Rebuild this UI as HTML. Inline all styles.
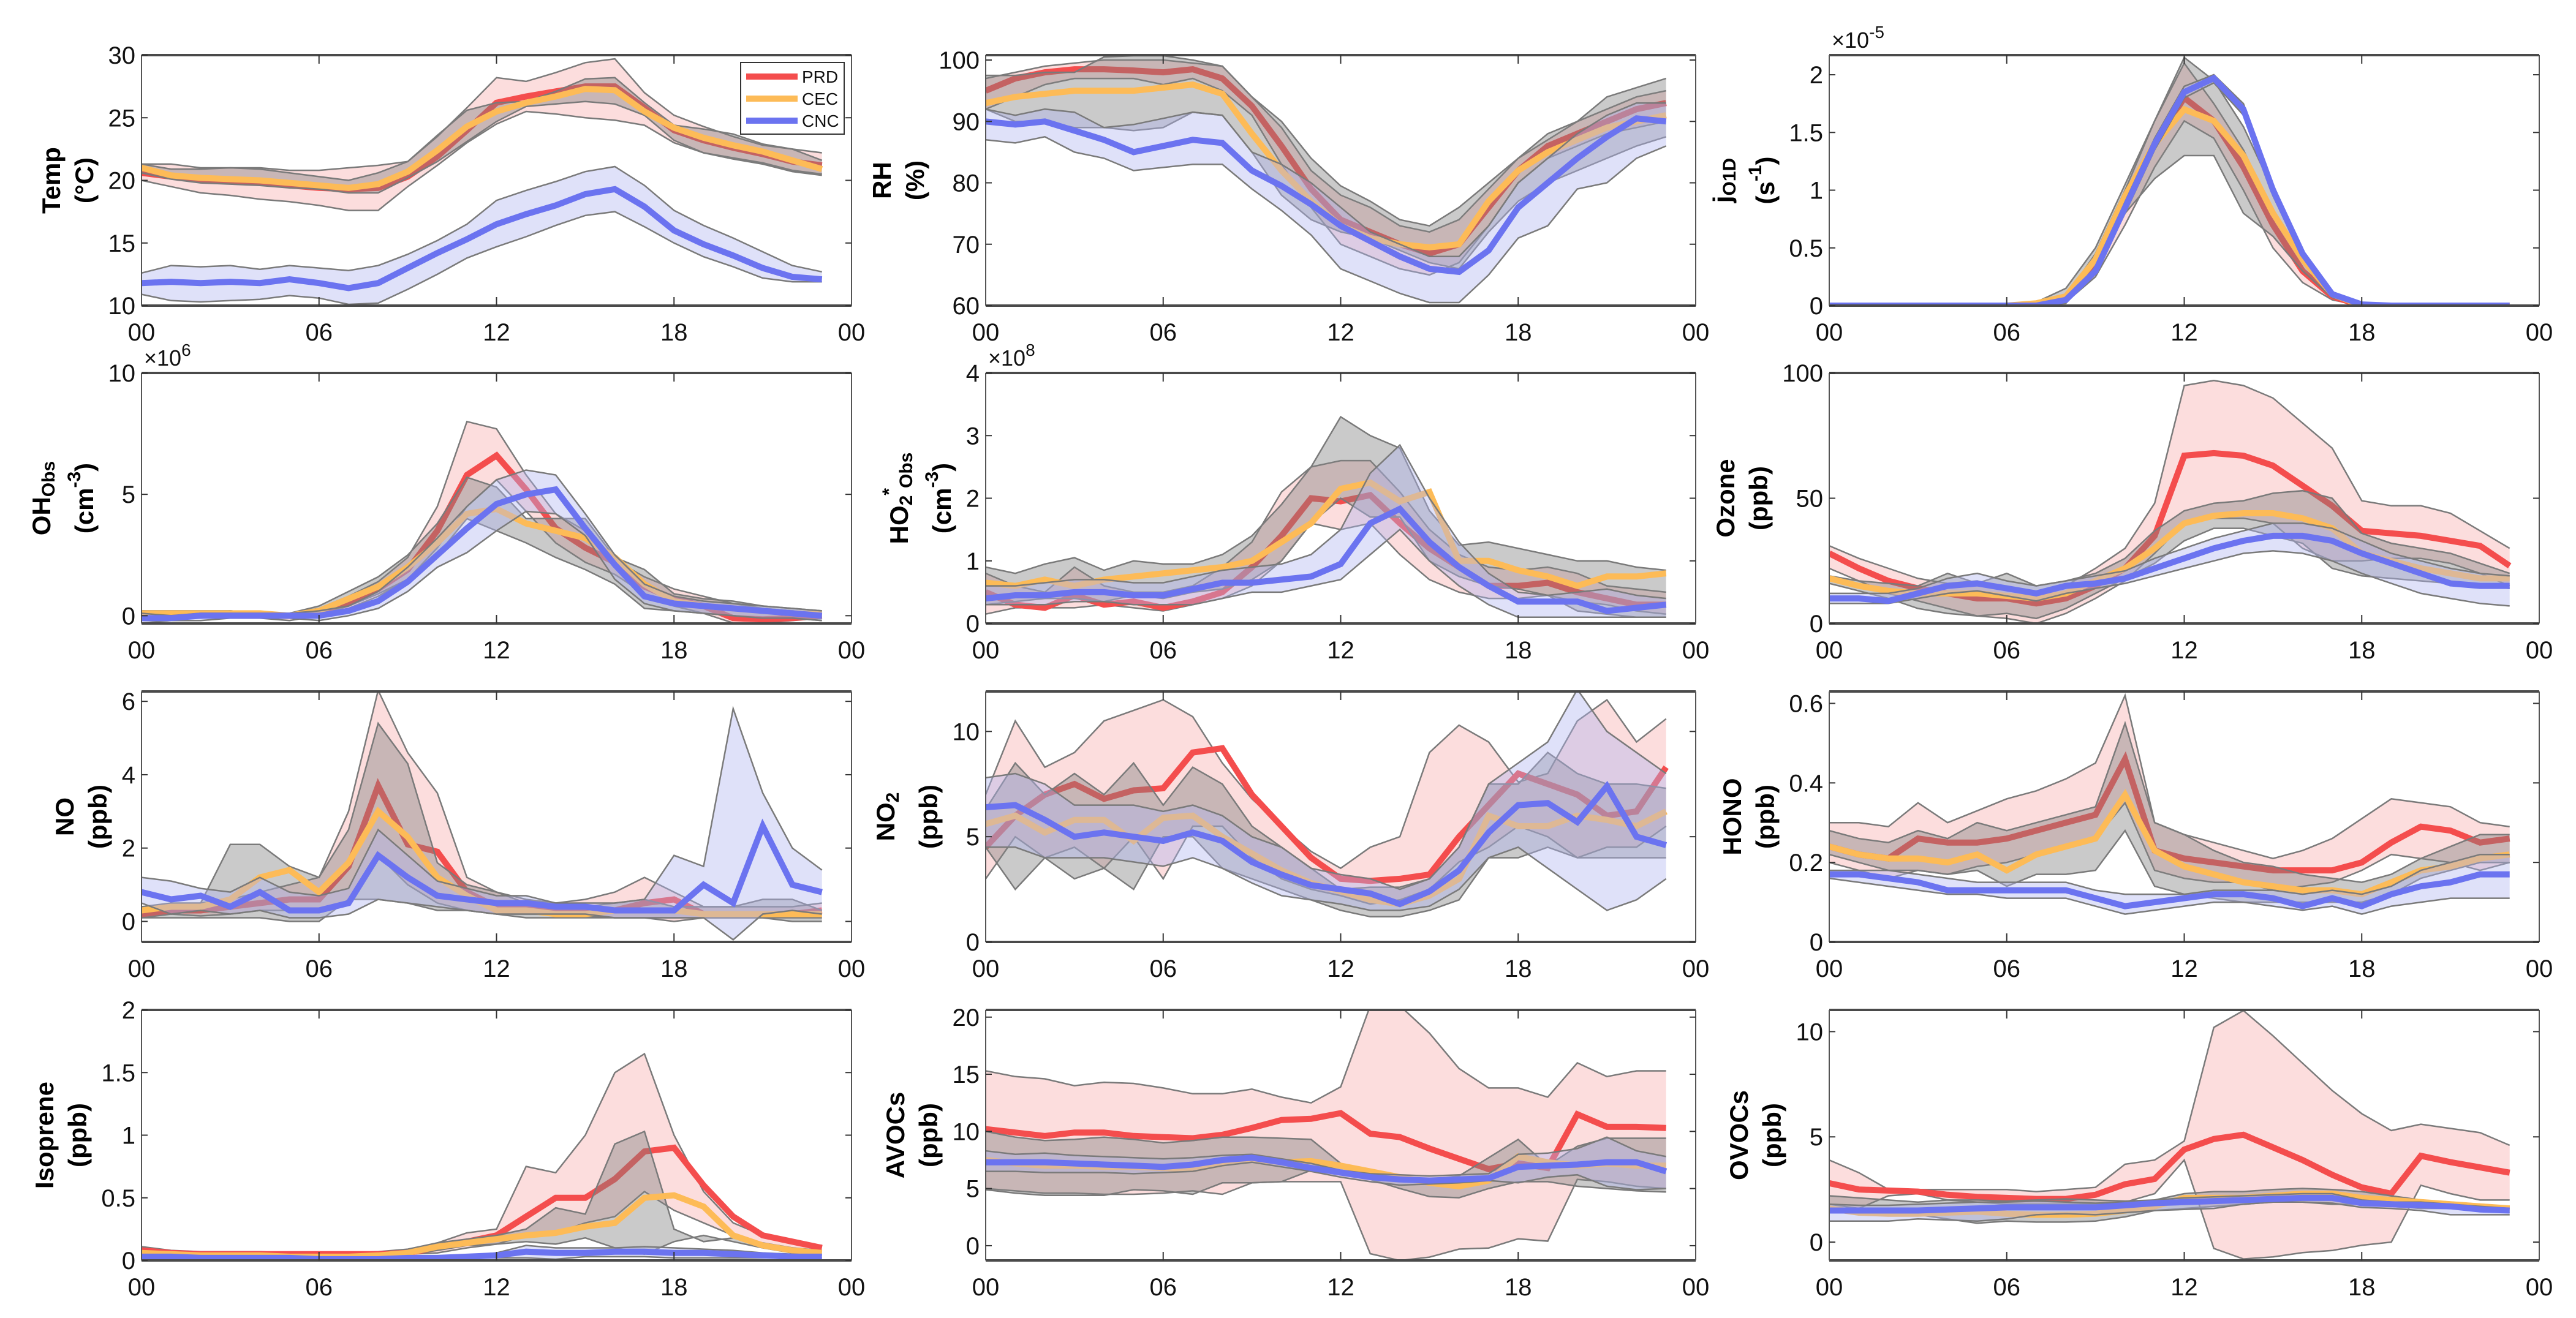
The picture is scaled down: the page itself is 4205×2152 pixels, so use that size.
<!DOCTYPE html>
<html><head><meta charset="utf-8"><style>
html,body{margin:0;padding:0;background:#fff;}
svg{display:block;font-family:"Liberation Sans",Arial,sans-serif;}
</style></head><body>
<svg id="fig" width="4205" height="2152" viewBox="0 0 4205 2152" xmlns="http://www.w3.org/2000/svg"></svg>
<script>
const hours = [0,1,2,3,4,5,6,7,8,9,10,11,12,13,14,15,16,17,18,19,20,21,22,23];
const xTickLabels = ["00","06","12","18","00"];
const seriesNames = ["PRD","CEC","CNC"];

// Temp
const tempPRD = [20.6,20.3,20.0,19.9,19.8,19.6,19.4,19.3,19.4,20.3,21.9,24,26.2,26.7,27.1,27.5,27.5,25.8,24,23.2,22.6,22.1,21.5,21.2];
const tempPRDlo = [20,19.5,19,18.8,18.5,18.3,18,17.6,17.6,19.5,21.2,23,24.5,25.5,25.3,25,24.8,24.4,23,22.2,21.8,21.4,20.8,20.5];
const tempPRDhi = [21.3,21.3,21,21,21,20.8,20.8,21,21.2,21.5,23.5,25.8,28.2,27.9,28.6,29.4,29.7,27,25.2,24.3,23.5,22.8,22.5,22.2];
const tempCEC = [21,20.4,20.2,20.1,20,19.8,19.6,19.4,19.7,20.7,22.4,24.3,25.5,26.2,26.7,27.3,27.2,25.5,24.2,23.4,22.8,22.3,21.6,20.9];
const tempCEClo = [20.6,20.1,19.8,19.7,19.6,19.4,19.3,19.0,19.0,20.2,21.5,23.1,24.7,25.9,26.1,26.3,26.1,25.2,23.2,22.2,21.7,21.3,20.7,20.4];
const tempCEChi = [21.3,20.9,20.9,21,20.9,20.6,20.3,20,20.6,21.5,23.6,25.6,26.2,26.3,27.1,28.1,28.2,26.2,24.4,24.1,23.7,22.9,22.5,21.6];
const tempCNC = [11.8,11.9,11.8,11.9,11.8,12.1,11.8,11.4,11.8,13,14.2,15.3,16.5,17.3,18,18.9,19.3,17.9,16,14.9,14,13,12.3,12.1];
const tempCNClo = [10.9,10.4,10.3,10.4,10.5,10.8,10.6,10.1,10.2,11.3,12.5,13.8,14.7,15.5,16.4,17.2,17.5,16.3,15,13.9,13.1,12.2,11.9,11.9];
const tempCNChi = [12.6,13.2,13.1,13.2,12.9,13.2,13,12.8,13.2,14.1,15.2,16.5,18.4,19.2,19.9,20.7,21.1,19.6,17.6,16.4,15.4,14.3,13.2,12.7];
// RH
const rhPRD = [95,97,98,98.5,98.5,98.3,98,98.5,97,92.5,86,79,74,72,70,68.5,70,76,82,86,88,90,92,93];
const rhPRDlo = [92,94,96,97,97,97,96,97,95,91,83,76,70,68,66,65,67,73,80,84,86,88,89,90];
const rhPRDhi = [97,98,99,99.5,100,100,100,99.5,99,94,89,82,78,76,73,72,74,79,84,87,90,92,94,95];
const rhCEC = [93,94,94.5,95,95,95,95.5,96,94.5,88,82,77,73,71,70,69.5,70,77,82,85,87,89,90,91];
const rhCEClo = [92,90,90,89,89,88.5,89,91.5,91,85,78,74,72,71,69,67,66,72,77,80,82,84,86,87.5];
const rhCEChi = [97.5,97.5,98,98,100.5,100.7,100.7,100,99,94,90,84,79.5,77,74,73,76,80,84,88,90,94,95.5,97];
const rhCNC = [90,89.5,90,88.5,87,85,86,87,86.5,82,79.5,76.5,73,70.5,68,66,65.5,69,76,80,84,87.5,90.5,90];
const rhCNClo = [87,86.5,87.5,85,84,82,82.5,83,83,79,75.5,71.5,66,64,62,60.5,60.5,65,71,73,79,80,84,86];
const rhCNChi = [92,91,92,91.5,89,89.5,90.5,91.5,91,85,83,80,76,72,70,68,68,73,80,84,88,91,93,93];
// jO1D (x1e-5)
const jPRD = [0,0,0,0,0,0,0,0,0.05,0.35,0.9,1.4,1.8,1.6,1.2,0.7,0.3,0.08,0,0,0,0,0,0];
const jPRDlo = [0,0,0,0,0,0,0,0,0.03,0.25,0.7,1.2,1.6,1.45,1.0,0.5,0.2,0.05,0,0,0,0,0,0];
const jPRDhi = [0,0,0,0,0,0,0,0,0.08,0.45,1.0,1.6,2.1,1.75,1.35,0.8,0.4,0.1,0,0,0,0,0,0];
const jCEC = [0,0,0,0,0,0,0,0.02,0.08,0.4,0.95,1.4,1.7,1.6,1.3,0.8,0.4,0.1,0,0,0,0,0,0];
const jCEClo = [0,0,0,0,0,0,0,0,0.02,0.3,0.8,1.1,1.3,1.3,0.8,0.6,0.3,0.07,0,0,0,0,0,0];
const jCEChi = [0,0,0,0,0,0,0,0.03,0.15,0.5,1.05,1.6,2.15,1.95,1.55,1.0,0.45,0.12,0,0,0,0,0,0];
const jCNC = [0,0,0,0,0,0,0,0,0.05,0.3,0.85,1.4,1.85,1.97,1.7,1.0,0.45,0.1,0.01,0,0,0,0,0];
const jCNClo = [0,0,0,0,0,0,0,0,0.04,0.28,0.8,1.35,1.8,1.93,1.65,0.95,0.42,0.09,0,0,0,0,0,0];
const jCNChi = [0,0,0,0,0,0,0,0,0.06,0.32,0.9,1.45,1.9,2.0,1.75,1.05,0.48,0.11,0.02,0,0,0,0,0];
// OH (x1e6)
const ohPRD = [0.1,0.05,0.05,0.1,0.05,0,0.1,0.5,1.1,1.9,3.5,5.8,6.6,5.2,3.6,2.8,2.2,1.2,0.7,0.4,-0.1,-0.15,-0.1,0];
const ohPRDlo = [-0.1,-0.1,-0.1,0,-0.1,-0.2,0,0.3,0.8,1.5,2.8,4.5,5.6,4.3,3.0,2.2,1.7,0.9,0.4,0.1,-0.3,-0.3,-0.2,-0.1];
const ohPRDhi = [0.2,0.15,0.1,0.2,0.1,0.1,0.3,0.8,1.4,2.4,4.5,8,7.7,5.8,4.2,3.5,2.3,1.6,1.1,0.8,0.5,0.3,0.2,0.1];
const ohCEC = [0.1,0.1,0.1,0.1,0.1,0,0.2,0.7,1.2,2.0,3.0,4.2,4.4,3.8,3.5,3.2,2.4,1.3,0.6,0.4,0.3,0.2,0.1,0.05];
const ohCEClo = [0,0,0,0,0,-0.1,0,0.4,0.9,1.5,2.5,4,3.5,3.0,2.4,1.9,1.3,0.3,0.2,0.1,0,-0.1,-0.1,-0.2];
const ohCEChi = [0.2,0.2,0.2,0.2,0.1,0.1,0.4,1,1.6,2.5,3.8,5.7,5.3,4.0,4.0,4.0,2.4,1.9,0.9,0.7,0.6,0.4,0.3,0.2];
const ohCNC = [-0.1,-0.1,0,0,0,0,0,0.2,0.6,1.4,2.5,3.6,4.6,5.0,5.2,3.6,2.1,0.8,0.5,0.4,0.3,0.2,0.1,0];
const ohCNClo = [-0.3,-0.2,-0.2,-0.1,-0.1,-0.1,-0.2,0,0.3,1.0,2,2.6,3.5,4.3,4.2,3.3,1.5,0.5,0.2,0.1,0,-0.1,-0.1,-0.2];
const ohCNChi = [0.1,0,0.1,0.1,0.1,0.1,0.2,0.4,1.0,2.0,3.2,4.5,5.6,6.0,5.8,4.2,2.5,1.3,0.8,0.6,0.5,0.4,0.3,0.2];
// HO2* (x1e8)
const ho2PRD = [0.5,0.3,0.25,0.45,0.3,0.35,0.25,0.35,0.5,0.9,1.4,2.0,1.95,2.05,1.6,1.2,0.9,0.6,0.6,0.65,0.5,0.4,0.3,0.3];
const ho2PRDlo = [0.15,0.25,0.25,0.25,0.3,0.25,0.2,0.3,0.4,0.6,1.0,1.6,1.5,1.6,1.1,0.7,0.5,0.4,0.4,0.45,0.35,0.3,0.2,0.15];
const ho2PRDhi = [0.8,0.6,0.5,0.9,0.6,0.5,0.5,0.6,0.9,1.3,2.1,2.5,2.6,2.6,2.1,1.5,1.1,0.9,0.85,0.9,0.8,0.6,0.55,0.5];
const ho2CEC = [0.65,0.6,0.7,0.6,0.7,0.75,0.8,0.85,0.9,1.0,1.3,1.6,2.15,2.25,1.95,2.1,1.0,1.0,0.85,0.75,0.6,0.75,0.75,0.8];
const ho2CEClo = [0.3,0.35,0.4,0.4,0.35,0.45,0.4,0.5,0.55,0.7,1.0,1.6,2.0,1.7,1.7,1.0,0.75,0.6,0.55,0.45,0.2,0.15,0.1,0.1];
const ho2CEChi = [0.9,0.8,0.95,1.05,0.85,1.0,0.95,0.95,1.1,1.4,1.9,2.5,3.3,3.0,2.8,1.8,1.25,1.3,1.2,1.1,1.0,1.0,0.9,0.85];
const ho2CNC = [0.4,0.45,0.45,0.5,0.5,0.45,0.45,0.55,0.65,0.65,0.7,0.75,0.95,1.6,1.83,1.3,0.9,0.6,0.35,0.35,0.35,0.2,0.25,0.3];
const ho2CNClo = [0.3,0.3,0.3,0.35,0.35,0.3,0.3,0.3,0.4,0.5,0.5,0.6,0.7,1.1,1.5,1.0,0.6,0.3,0.1,0.1,0.1,0.1,0.1,0.1];
const ho2CNChi = [0.6,0.6,0.65,0.7,0.7,0.65,0.65,0.75,0.85,0.9,0.95,1.1,1.5,2.4,2.85,2.0,1.3,0.8,0.5,0.45,0.5,0.55,0.45,0.4];
// Ozone
const o3PRD = [28,22,17,14,12,10,10,8,10,15,22,35,67,68,67,63,55,47,37,36,35,33,31,23];
const o3PRDlo = [22,17,12,9,6,3,2,0,4,10,17,28,40,42,42,40,30,25,25,26,26,24,20,15];
const o3PRDhi = [31,26,22,18,16,17,14,12,15,22,30,48,95,97,95,90,80,70,49,47,47,44,37,30];
const o3CEC = [18,15,13,12,12,12,11,10,12,17,22,30,40,43,44,44,42,38,28,25,22,20,18,18];
const o3CEClo = [16,13,10,6,4,3,4,2,6,12,18,24,33,38,38,35,32,22,19,18,17,16,15,14];
const o3CEChi = [19,17,16,15,20,16,20,15,17,20,26,37,45,48,49,52,53,50,36,32,30,28,24,20];
const o3CNC = [10,10,9,12,15,16,14,12,15,16,18,22,26,30,33,35,35,33,28,24,20,16,15,15];
const o3CNClo = [8,8,8,10,12,13,11,9,12,14,16,19,22,25,28,29,28,25,20,16,12,10,8,7];
const o3CNChi = [12,12,12,14,18,20,17,15,17,19,21,26,30,34,37,40,40,38,33,28,25,22,20,19];
// NO
const noPRD = [0.2,0.3,0.3,0.4,0.5,0.6,0.6,1.5,3.7,2.1,1.9,0.8,0.4,0.35,0.3,0.3,0.3,0.5,0.6,0.2,0.2,0.2,0.2,0.3];
const noPRDlo = [0.1,0.2,0.15,0.2,0.3,0.3,0.3,0.5,1.8,1.0,0.5,0.3,0.2,0.2,0.2,0.15,0.1,0.1,0,0.1,0.1,0.1,0.1,0.1];
const noPRDhi = [0.4,0.4,0.5,0.6,0.8,1.0,1.2,3,6.3,4.6,3.5,1.2,0.8,0.6,0.5,0.6,0.8,1.2,0.8,0.4,0.4,0.4,0.4,0.5];
const noCEC = [0.3,0.4,0.4,0.6,1.2,1.4,0.8,1.6,3.0,2.3,1.2,0.7,0.3,0.3,0.2,0.2,0.3,0.3,0.3,0.2,0.2,0.2,0.2,0.2];
const noCEClo = [0.1,0.1,0.1,0.1,0.1,0,0,0.6,0.6,0.5,0.3,0.3,0.2,0.1,0.1,0.1,0.1,0.1,0.1,0.1,0.1,0.1,0,0];
const noCEChi = [0.4,0.5,0.5,2.1,2.1,1.5,1.2,2.5,5.4,4.3,1.6,1.0,0.8,0.5,0.4,0.4,0.5,0.6,0.4,0.4,0.4,0.6,0.6,0.3];
const noCNC = [0.8,0.6,0.7,0.4,0.8,0.3,0.3,0.5,1.8,1.2,0.7,0.6,0.5,0.5,0.4,0.4,0.3,0.3,0.3,1.0,0.5,2.6,1.0,0.8];
const noCNClo = [0.5,0.2,0.3,0.2,0.3,0.1,0.1,0.2,0.6,0.5,0.4,0.3,0.2,0.2,0.2,0.2,0.1,0.1,0.1,0.1,-0.5,0.2,0.3,0.2];
const noCNChi = [1.2,1.1,0.9,0.8,1.2,0.8,0.7,0.9,2.5,1.8,1.1,0.9,0.7,0.7,0.5,0.5,0.5,0.6,1.8,1.5,5.8,3.5,2.0,1.4];
// NO2
const no2PRD = [4.5,6,7,7.5,6.8,7.2,7.3,9,9.2,7,5.5,4,3,2.9,3,3.2,5,6.5,8.0,7.5,7.0,6.0,6.2,8.3];
const no2PRDlo = [3,5,4,4.5,3.5,5,3,5.5,5.5,4,3,2.5,2.2,1.8,2.0,2.5,3.8,4.5,5.5,5,4,4.5,4.5,5.5];
const no2PRDhi = [7,10.5,8.3,9,10.5,11,11.5,10.7,8.5,6.8,5.5,4.3,3.5,4.5,5,9,10.3,9.5,7.6,8,10.5,11.5,9.5,10.6];
const no2CEC = [5.6,6,5.2,5.8,5.8,4.8,5.9,6,5,4.2,3.4,2.8,2.4,2.0,1.8,2.2,3,6.0,5.5,5.5,6,5.8,5.5,6.2];
const no2CEClo = [4.5,2.5,4,3,3.5,2.5,5,5,3.5,3,2.5,2,1.5,1.2,1.2,1.5,2.0,4.0,4.0,4.5,4,4,4,4];
const no2CEChi = [6.3,8.5,7,8,7,8.5,6.5,8.3,7.5,5.5,4.5,3.5,2.5,2.6,2.6,3,4.5,7.5,7.5,9,8,7.5,7.5,7.3];
const no2CNC = [6.4,6.5,5.8,5.0,5.2,5.0,4.8,5.2,4.8,3.8,3.2,2.7,2.5,2.3,1.8,2.4,3.4,5.2,6.5,6.6,5.7,7.4,5.0,4.6];
const no2CNClo = [4.5,4.5,4,4,4,3.8,3.6,4,3.5,2.8,2.2,2.0,1.8,1.5,1.5,1.7,2.5,4.0,4.5,3.5,2.5,1.5,2.0,3.0];
const no2CNChi = [7.8,8,7.5,6.5,6.5,6.5,6.2,6.5,6,5,4.5,3.5,3.2,3.0,2.5,3.0,4.5,7.5,8.5,9.5,12,10,9,8];
// HONO
const honoPRD = [0.24,0.22,0.21,0.26,0.25,0.25,0.26,0.28,0.3,0.32,0.46,0.23,0.21,0.2,0.19,0.18,0.18,0.18,0.2,0.25,0.29,0.28,0.25,0.26];
const honoPRDlo = [0.2,0.18,0.16,0.18,0.17,0.19,0.2,0.22,0.24,0.26,0.35,0.18,0.16,0.15,0.15,0.13,0.14,0.15,0.18,0.22,0.21,0.2,0.18,0.2];
const honoPRDhi = [0.3,0.3,0.29,0.35,0.3,0.33,0.36,0.38,0.41,0.45,0.62,0.3,0.27,0.25,0.23,0.21,0.23,0.26,0.31,0.36,0.35,0.34,0.3,0.29];
const honoCEC = [0.24,0.22,0.21,0.21,0.2,0.22,0.18,0.22,0.24,0.26,0.37,0.23,0.19,0.17,0.15,0.14,0.13,0.13,0.12,0.15,0.18,0.19,0.21,0.22];
const honoCEClo = [0.22,0.2,0.18,0.18,0.17,0.18,0.14,0.17,0.17,0.18,0.28,0.14,0.12,0.11,0.1,0.1,0.1,0.1,0.1,0.12,0.16,0.18,0.2,0.2];
const honoCEChi = [0.28,0.26,0.25,0.28,0.26,0.3,0.28,0.3,0.32,0.34,0.55,0.3,0.27,0.23,0.2,0.19,0.17,0.16,0.15,0.17,0.21,0.24,0.27,0.27];
const honoCNC = [0.17,0.17,0.16,0.15,0.13,0.13,0.13,0.13,0.13,0.11,0.09,0.1,0.11,0.12,0.12,0.11,0.09,0.11,0.09,0.12,0.14,0.15,0.17,0.17];
const honoCNClo = [0.16,0.15,0.14,0.13,0.12,0.12,0.11,0.11,0.11,0.09,0.07,0.08,0.09,0.1,0.1,0.09,0.08,0.09,0.07,0.09,0.1,0.11,0.11,0.11];
const honoCNChi = [0.18,0.18,0.18,0.17,0.16,0.15,0.15,0.15,0.15,0.13,0.12,0.12,0.12,0.13,0.13,0.13,0.12,0.13,0.12,0.14,0.18,0.2,0.22,0.22];
// Isoprene
const isoPRD = [0.08,0.06,0.05,0.05,0.05,0.05,0.05,0.05,0.05,0.06,0.1,0.15,0.2,0.35,0.5,0.5,0.65,0.87,0.9,0.6,0.35,0.2,0.15,0.1];
const isoPRDlo = [0.07,0.05,0.04,0.04,0.04,0.04,0.04,0.04,0.04,0.05,0.06,0.1,0.13,0.2,0.22,0.3,0.35,0.55,0.4,0.3,0.2,0.12,0.1,0.08];
const isoPRDhi = [0.11,0.08,0.07,0.07,0.07,0.06,0.06,0.06,0.07,0.09,0.14,0.22,0.25,0.75,0.7,1.0,1.5,1.65,1.0,0.55,0.3,0.2,0.15,0.12];
const isoCEC = [0.06,0.05,0.04,0.04,0.04,0.03,0.03,0.03,0.04,0.06,0.11,0.14,0.17,0.2,0.22,0.27,0.3,0.5,0.52,0.43,0.2,0.12,0.08,0.06];
const isoCEClo = [0.05,0.04,0.03,0.03,0.03,0.03,0.03,0.03,0.03,0.05,0.08,0.12,0.13,0.15,0.13,0.18,0.1,0.05,0.15,0.2,0.15,0.1,0.06,0.05];
const isoCEChi = [0.07,0.06,0.05,0.05,0.05,0.04,0.04,0.04,0.05,0.07,0.14,0.17,0.2,0.25,0.42,0.37,0.93,1.03,0.25,0.15,0.18,0.14,0.1,0.07];
const isoCNC = [0.03,0.03,0.02,0.02,0.02,0.02,0.01,0.01,0.01,0.02,0.02,0.03,0.04,0.07,0.06,0.06,0.07,0.07,0.06,0.06,0.05,0.04,0.03,0.03];
const isoCNClo = [0.02,0.02,0.01,0.01,0.01,0.01,0.01,0.01,0.01,0.01,0.01,0.02,0.02,0.02,0.01,0.03,0.03,0.03,0.02,0.02,0.02,0.02,0.02,0.02];
const isoCNChi = [0.04,0.04,0.03,0.03,0.03,0.03,0.02,0.02,0.02,0.03,0.03,0.04,0.06,0.12,0.1,0.1,0.1,0.11,0.1,0.09,0.08,0.06,0.05,0.04];
// AVOCs
const avPRD = [10.2,9.9,9.6,9.9,9.9,9.6,9.5,9.4,9.7,10.3,11,11.1,11.6,9.8,9.5,8.5,7.6,6.7,7.2,6.8,11.5,10.4,10.4,10.3];
const avPRDlo = [5,4.8,4.6,4.6,4.5,4.5,4.6,4.8,4.5,5.5,5.6,5.6,5.6,-0.7,-1.3,-1,-0.3,-0.2,0.6,0.4,5.8,5.6,5.2,5.0];
const avPRDhi = [15.3,14.8,14.6,14,14.3,14.2,13.8,13.3,13.3,13.7,13,12.5,13.9,21,21,18.6,15.5,13.8,13.8,13,16,14.8,15.3,15.3];
const avCEC = [7.5,7.2,7.0,7.0,6.9,6.9,6.8,6.7,7.2,7.6,7.3,7.4,7.0,6.5,6.0,5.5,5.2,5.7,7.8,7.3,7.0,7.2,7.0,7.0];
const avCEClo = [4.9,4.6,4.4,4.4,4.4,4.9,4.8,4.5,5.5,5.5,5.6,6.6,6.3,5.8,5.0,4.3,4.2,5.0,5.6,5.6,5.2,5.0,4.8,4.7];
const avCEChi = [10,9.5,9.2,9.3,9.5,9.3,9.0,9.2,9.5,9.5,9.4,9.3,7.2,6.5,6.0,5.8,6.1,7.7,9.3,7.0,8.7,9.4,9.4,9.4];
const avCNC = [7.3,7.3,7.3,7.2,7.1,7.0,6.9,7.1,7.5,7.7,7.3,6.8,6.4,6.0,5.8,5.7,5.8,5.9,6.9,7.0,7.1,7.3,7.3,6.5];
const avCNClo = [6.5,6.5,6.4,6.4,6.4,6.3,6.4,6.5,7,7.3,6.9,6.5,6.0,5.6,5.3,5.4,5.5,5.7,5.5,6.0,6.2,5.2,4.9,5.0];
const avCNChi = [8.3,8.0,8.1,7.9,7.8,7.7,7.6,7.7,7.9,8.0,7.6,7.2,6.6,6.3,6.2,6.1,6.2,6.3,8.0,8.1,8.5,9.5,8.3,7.8];
// OVOCs
const ovPRD = [2.8,2.5,2.45,2.4,2.25,2.15,2.1,2.05,2.05,2.25,2.75,3.0,4.4,4.9,5.1,4.5,3.9,3.2,2.6,2.3,4.1,3.8,3.55,3.3];
const ovPRDlo = [1.8,1.6,2.2,2.3,2.0,1.9,1.8,1.8,1.8,1.8,1.9,2.3,3.9,-0.3,-0.8,-0.7,-0.5,-0.4,-0.15,0,2.7,2.3,2.0,2.0];
const ovPRDhi = [3.9,3.3,2.5,2.5,2.5,2.5,2.5,2.4,2.5,2.6,3.7,3.9,4.8,10.2,11,9.8,8.5,7.2,6.1,5.3,5.6,5.4,5.2,4.6];
const ovCEC = [1.6,1.4,1.35,1.35,1.4,1.45,1.35,1.3,1.3,1.35,1.5,1.7,2.1,2.1,2.1,2.2,2.3,2.3,2.1,2.0,1.9,1.8,1.7,1.6];
const ovCEClo = [1.6,1.6,1.4,1.3,1.1,0.9,1.0,0.95,0.95,1.0,1.2,1.5,1.6,1.7,1.8,1.9,1.9,1.8,1.8,1.7,1.6,1.6,1.5,1.4];
const ovCEChi = [2.2,2.1,2.0,1.9,2.0,2.0,1.95,2.0,2.05,2.0,1.95,2.0,2.3,2.4,2.4,2.5,2.55,2.5,2.4,2.2,2.0,1.9,1.8,1.7];
const ovCNC = [1.5,1.5,1.5,1.5,1.55,1.6,1.65,1.65,1.65,1.65,1.75,1.85,1.9,1.95,2.0,2.05,2.1,2.1,1.85,1.8,1.75,1.7,1.55,1.5];
const ovCNClo = [1.0,1.0,1.0,1.1,1.05,1.0,1.1,1.3,1.35,1.3,1.4,1.5,1.55,1.6,1.8,1.9,1.9,1.85,1.65,1.6,1.5,1.3,1.3,1.3];
const ovCNChi = [1.8,1.75,1.75,1.8,1.85,1.9,1.9,1.95,1.9,1.85,1.9,2.0,2.1,2.15,2.2,2.25,2.3,2.3,2.0,1.9,1.9,1.8,1.7,1.6];

const NS = "http://www.w3.org/2000/svg";
const svg = document.getElementById('fig');
function mk(tag, attrs, parent){const e=document.createElementNS(NS,tag);for(const k in attrs)e.setAttribute(k,attrs[k]);(parent||svg).appendChild(e);return e;}

const colX = [231, 1609, 2986];
const rowY = [90, 609, 1129, 1649];
const PW = 1159, PH = 409;
const lineCol = ["#f44d4d","#fdbb57","#6b73f0"];
const bandCol = ["rgba(248,170,170,0.4)","rgba(128,128,128,0.42)","rgba(175,180,240,0.4)"];

const panels = [
 {key:"temp", ylim:[10,30], yt:[10,15,20,25,30], ytl:["10","15","20","25","30"], lab:[[["Temp",0]],[["(°C)",0]]], data:[[tempPRD,tempPRDlo,tempPRDhi],[tempCEC,tempCEClo,tempCEChi],[tempCNC,tempCNClo,tempCNChi]]},
 {key:"rh", ylim:[60,100.8], yt:[60,70,80,90,100], ytl:["60","70","80","90","100"], lab:[[["RH",0]],[["(%)",0]]], data:[[rhPRD,rhPRDlo,rhPRDhi],[rhCEC,rhCEClo,rhCEChi],[rhCNC,rhCNClo,rhCNChi]]},
 {key:"jo1d", ylim:[0,2.17], yt:[0,0.5,1,1.5,2], ytl:["0","0.5","1","1.5","2"], exp:"-5", sub:true, lab:[[["j",0],["O1D",1]],[["(s",0],["-1",-1],[")",0]]], data:[[jPRD,jPRDlo,jPRDhi],[jCEC,jCEClo,jCEChi],[jCNC,jCNClo,jCNChi]]},
 {key:"oh", ylim:[-0.32,10], yt:[0,5,10], ytl:["0","5","10"], exp:"6", sub:true, lab:[[["OH",0],["Obs",1]],[["(cm",0],["-3",-1],[")",0]]], data:[[ohPRD,ohPRDlo,ohPRDhi],[ohCEC,ohCEClo,ohCEChi],[ohCNC,ohCNClo,ohCNChi]]},
 {key:"ho2", ylim:[0,4], yt:[0,1,2,3,4], ytl:["0","1","2","3","4"], exp:"8", sub:true, lab:[[["HO",0],["2",1],["*",-1],["Obs",-0.5]],[["(cm",0],["-3",-1],[")",0]]], data:[[ho2PRD,ho2PRDlo,ho2PRDhi],[ho2CEC,ho2CEClo,ho2CEChi],[ho2CNC,ho2CNClo,ho2CNChi]]},
 {key:"ozone", ylim:[0,100], yt:[0,50,100], ytl:["0","50","100"], lab:[[["Ozone",0]],[["(ppb)",0]]], data:[[o3PRD,o3PRDlo,o3PRDhi],[o3CEC,o3CEClo,o3CEChi],[o3CNC,o3CNClo,o3CNChi]]},
 {key:"no", ylim:[-0.56,6.27], yt:[0,2,4,6], ytl:["0","2","4","6"], lab:[[["NO",0]],[["(ppb)",0]]], data:[[noPRD,noPRDlo,noPRDhi],[noCEC,noCEClo,noCEChi],[noCNC,noCNClo,noCNChi]]},
 {key:"no2", ylim:[0,11.9], yt:[0,5,10], ytl:["0","5","10"], sub:true, lab:[[["NO",0],["2",1]],[["(ppb)",0]]], data:[[no2PRD,no2PRDlo,no2PRDhi],[no2CEC,no2CEClo,no2CEChi],[no2CNC,no2CNClo,no2CNChi]]},
 {key:"hono", ylim:[0,0.63], yt:[0,0.2,0.4,0.6], ytl:["0","0.2","0.4","0.6"], lab:[[["HONO",0]],[["(ppb)",0]]], data:[[honoPRD,honoPRDlo,honoPRDhi],[honoCEC,honoCEClo,honoCEChi],[honoCNC,honoCNClo,honoCNChi]]},
 {key:"isoprene", ylim:[0,2], yt:[0,0.5,1,1.5,2], ytl:["0","0.5","1","1.5","2"], lab:[[["Isoprene",0]],[["(ppb)",0]]], data:[[isoPRD,isoPRDlo,isoPRDhi],[isoCEC,isoCEClo,isoCEChi],[isoCNC,isoCNClo,isoCNChi]]},
 {key:"avocs", ylim:[-1.29,20.63], yt:[0,5,10,15,20], ytl:["0","5","10","15","20"], lab:[[["AVOCs",0]],[["(ppb)",0]]], data:[[avPRD,avPRDlo,avPRDhi],[avCEC,avCEClo,avCEChi],[avCNC,avCNClo,avCNChi]]},
 {key:"ovocs", ylim:[-0.87,11.03], yt:[0,5,10], ytl:["0","5","10"], lab:[[["OVOCs",0]],[["(ppb)",0]]], data:[[ovPRD,ovPRDlo,ovPRDhi],[ovCEC,ovCEClo,ovCEChi],[ovCNC,ovCNClo,ovCNChi]]}
];

// parts: [text, level] level 0 normal, 1 subscript, -1 superscript, -0.5 sub after sup
function labelLine(g, x, y, parts){
  const t = mk('text',{x:x,y:y,'text-anchor':'middle','font-size':42,'font-weight':'bold',transform:`rotate(-90 ${x} ${y})`,'dominant-baseline':'central'},g);
  
  
  let cur=0;
  parts.forEach(([txt,lvl])=>{
    let target = lvl===1?12:(lvl===-1?-16:(lvl===-0.5?12:0));
    const attrs={dy:(target-cur)};
    if(lvl!==0) attrs['font-size']=30;
    const s=mk('tspan',attrs,t); s.textContent=txt;
    cur=target;
  });
}

panels.forEach((p,i)=>{
  const L = colX[i%3], T = rowY[Math.floor(i/3)];
  const g = mk('g',{});
  
  
  const xs = h => L + h/24*PW;
  const ys = v => T + PH - (v-p.ylim[0])/(p.ylim[1]-p.ylim[0])*PH;
  const clipId = 'clip'+i;
  const cp = mk('clipPath',{id:clipId},g); mk('rect',{x:L,y:T,width:PW,height:PH},cp);
  const plot = mk('g',{'clip-path':`url(#${clipId})`},g);
  p.data.forEach((sd,si)=>{
    const [m,lo,hi]=sd;
    let d='M'+hours.map((h,k)=>xs(h).toFixed(1)+','+ys(hi[k]).toFixed(1)).join('L');
    d+='L'+hours.slice().reverse().map((h)=>xs(h).toFixed(1)+','+ys(lo[h]).toFixed(1)).join('L')+'Z';
    const band = mk('path',{d:d,fill:bandCol[si],stroke:'none'},plot);
    
    
    const e1 = mk('polyline',{points:hours.map((h,k)=>xs(h).toFixed(1)+','+ys(hi[k]).toFixed(1)).join(' '),fill:'none',stroke:'#7a7a7a','stroke-width':2.5},plot);
    
    
    const e2 = mk('polyline',{points:hours.map((h,k)=>xs(h).toFixed(1)+','+ys(lo[k]).toFixed(1)).join(' '),fill:'none',stroke:'#7a7a7a','stroke-width':2.5},plot);
    
    
    const ln = mk('polyline',{points:hours.map((h,k)=>xs(h).toFixed(1)+','+ys(m[k]).toFixed(1)).join(' '),fill:'none',stroke:lineCol[si],'stroke-width':10},plot);
    
    
  });
  mk('line',{x1:L,y1:T,x2:L+PW,y2:T,stroke:'#4a4a4a','stroke-width':4},g);
  mk('line',{x1:L,y1:T+PH,x2:L+PW,y2:T+PH,stroke:'#4a4a4a','stroke-width':4},g);
  mk('line',{x1:L,y1:T,x2:L,y2:T+PH,stroke:'#555','stroke-width':2},g);
  mk('line',{x1:L+PW,y1:T,x2:L+PW,y2:T+PH,stroke:'#555','stroke-width':2},g);
  [0,6,12,18,24].forEach((h,k)=>{
    const x=xs(h);
    if(k>0&&k<4){ mk('line',{x1:x,y1:T+PH,x2:x,y2:T+PH-14,stroke:'#333','stroke-width':2},g); mk('line',{x1:x,y1:T,x2:x,y2:T+14,stroke:'#333','stroke-width':2},g);}
    const t=mk('text',{x:x,y:T+PH+57,'text-anchor':'middle','font-size':40,fill:'#111'},g);
    t.textContent=xTickLabels[k];
    
    
  });
  let maxw=0;
  p.yt.forEach((v,k)=>{
    const y=ys(v);
    mk('line',{x1:L,y1:y,x2:L+10,y2:y,stroke:'#333','stroke-width':2},g);
    mk('line',{x1:L+PW,y1:y,x2:L+PW-10,y2:y,stroke:'#333','stroke-width':2},g);
    const t=mk('text',{x:L-10,y:y+14,'text-anchor':'end','font-size':40,fill:'#111'},g);
    t.textContent=p.ytl[k];
    
    
    maxw=Math.max(maxw,p.ytl[k].length*22-(p.ytl[k].includes('.')?11:0));
  });
  if(p.exp){
    const t=mk('text',{x:L+4,y:T-12,'font-size':36,fill:'#111'},g);
    
    
    mk('tspan',{},t).textContent='×10';
    const s=mk('tspan',{'font-size':28,dy:-16},t); s.textContent=p.exp;
  }
  const cy=T+PH/2;
  const x2=L-maxw-50, x1=x2-(p.sub?70:54);
  labelLine(g,x1,cy,p.lab[0]);
  labelLine(g,x2,cy,p.lab[1]);
});

const lg = mk('g',{});


mk('rect',{x:1209,y:102,width:169,height:117,fill:'#fff',stroke:'#333','stroke-width':2},lg);
seriesNames.forEach((n,i)=>{
  const y=125+i*36;
  const l=mk('line',{x1:1218,y1:y,x2:1302,y2:y,stroke:lineCol[i],'stroke-width':10},lg);
  
  
  const t=mk('text',{x:1309,y:y+10,'font-size':28,fill:'#111'},lg);
  t.textContent=n;
  
  
});
</script>
</body></html>
